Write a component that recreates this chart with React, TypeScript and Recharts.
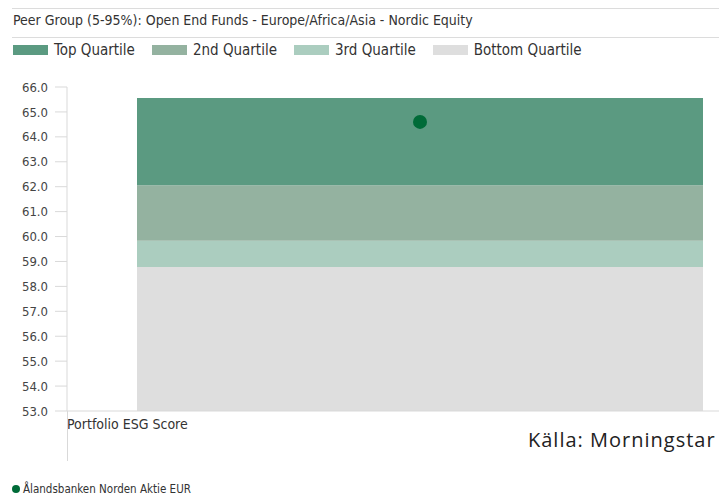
import { ComposedChart, Bar, Line, XAxis, YAxis, Label } from 'recharts';

const categories = ['Portfolio ESG Score'];
// quartile boundaries (top of each band)
const bottomTop = [58.78];
const thirdTop = [59.83];
const secondTop = [62.06];
const firstTop = [65.56];
const fundScore = [64.6];

const yTicks = [53, 54, 55, 56, 57, 58, 59, 60, 61, 62, 63, 64, 65, 66];

const quartiles = [
  { key: 'top', name: 'Top Quartile', color: '#5b9a81' },
  { key: 'second', name: '2nd Quartile', color: '#94b2a0' },
  { key: 'third', name: '3rd Quartile', color: '#abcdbf' },
  { key: 'bottom', name: 'Bottom Quartile', color: '#dedede' },
];

const fundName = 'Ålandsbanken Norden Aktie EUR';
const fundColor = '#006b38';

const data = categories.map((c, i) => ({
  name: c,
  bottom: bottomTop[i],
  third: thirdTop[i] - bottomTop[i],
  second: secondTop[i] - thirdTop[i],
  top: firstTop[i] - secondTop[i],
  fund: fundScore[i],
}));

const font = '"Liberation Sans Narrow", "DejaVu Sans Condensed", "Noto Sans", sans-serif';
const colorOf = (k: string) => quartiles.find((q) => q.key === k)!.color;

export default function App() {
  return (
    <div style={{ position: 'absolute', left: 0, top: 0, width: 719, height: 496, background: '#fff', fontFamily: font }}>
      <div style={{ position: 'absolute', left: 12, right: 0, top: 8, borderTop: '1px solid #dcdcdc' }} />
      <div style={{ position: 'absolute', left: 13, top: 12, fontSize: 14, color: '#333' }}>
        Peer Group (5-95%): Open End Funds - Europe/Africa/Asia - Nordic Equity
      </div>
      <div style={{ position: 'absolute', left: 12, right: 0, top: 37, borderTop: '1px solid #dcdcdc' }} />
      <div style={{ position: 'absolute', left: 13, top: 41, display: 'flex', fontSize: 15, color: '#333' }}>
        {quartiles.map((q) => (
          <div key={q.key} style={{ display: 'flex', alignItems: 'center', marginRight: 17 }}>
            <span style={{ width: 35, height: 10, background: q.color, marginRight: 6, display: 'inline-block' }} />
            <span>{q.name}</span>
          </div>
        ))}
      </div>

      <ComposedChart
        width={719}
        height={496}
        data={data}
        margin={{ top: 87, right: 0, bottom: 55, left: 12 }}
        barCategoryGap={0}
      >
        <XAxis
          dataKey="name"
          height={30}
          tick={false}
          tickLine={false}
          padding={{ left: 70, right: 16 }}
          stroke="#d9d9d9"
        >
          <Label value={categories[0]} position="insideLeft" offset={0} fill="#333" fontSize={14} fontFamily={font} dy={-2} />
        </XAxis>
        <YAxis
          width={55}
          domain={[53, 66]}
          ticks={yTicks}
          interval={0}
          tickFormatter={(v: number) => v.toFixed(1)}
          tickSize={12}
          tickMargin={7}
          stroke="#d9d9d9"
          tick={{ fill: '#444', fontSize: 13, fontFamily: font }}
          allowDataOverflow
        />
        <Bar dataKey="bottom" stackId="q" fill={colorOf('bottom')} isAnimationActive={false} />
        <Bar dataKey="third" stackId="q" fill={colorOf('third')} isAnimationActive={false} />
        <Bar dataKey="second" stackId="q" fill={colorOf('second')} isAnimationActive={false} />
        <Bar dataKey="top" stackId="q" fill={colorOf('top')} isAnimationActive={false} />
        <Line
          dataKey="fund"
          stroke="none"
          dot={{ r: 7, fill: fundColor, stroke: fundColor, strokeWidth: 0 }}
          activeDot={false}
          isAnimationActive={false}
        />
      </ComposedChart>

      <div style={{ position: 'absolute', left: 67, top: 411, height: 50, borderLeft: '1px solid #d9d9d9' }} />
      <div style={{ position: 'absolute', left: 528, top: 426, fontSize: 20, letterSpacing: 1, color: '#222', fontFamily: '"Open Sans", "Noto Sans", sans-serif' }}>
        Källa: Morningstar
      </div>
      <div style={{ position: 'absolute', left: 12, top: 482, display: 'flex', alignItems: 'center', fontSize: 11.5, color: '#333' }}>
        <span style={{ width: 8, height: 8, borderRadius: 4, background: fundColor, marginRight: 3, display: 'inline-block' }} />
        <span>{fundName}</span>
      </div>
    </div>
  );
}
